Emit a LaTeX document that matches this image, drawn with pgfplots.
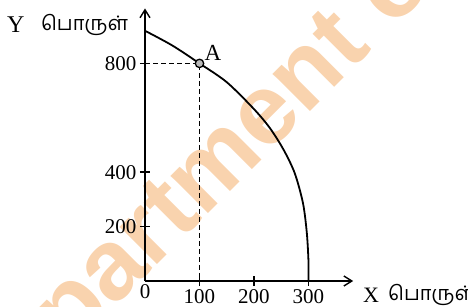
\documentclass[border=0pt]{standalone}
\usepackage{fontspec}
\setmainfont{Liberation Serif}
\newfontfamily\tafont[Script=Tamil]{Hind Madurai}
\newfontfamily\wmfont{Liberation Sans}
\usepackage{pgfplots}
\pgfplotsset{compat=1.18}
\usetikzlibrary{arrows.meta}
\definecolor{wm}{RGB}{249,211,174}

\begin{document}
\begin{tikzpicture}
\begin{scope}
\clip (-145bp,-26bp) rectangle (323bp,281bp);
\node[anchor=base west, rotate=45, inner sep=0, text=wm, font=\wmfont\bfseries\fontsize{100bp}{105bp}\selectfont] at (-75bp,-71bp) {\llap{De}partment of Examinations};
\end{scope}
\begin{axis}[
  anchor=origin, at={(0,0)},
  x=0.545bp, y=0.272bp,
  xmin=0, xmax=382, ymin=0, ymax=1002,
  axis lines=left,
  axis line style={-{Straight Barb[length=8bp,width=10bp,line width=1.4bp]}, line width=1.6bp, black},
  clip=false,
  xtick={100,200,300}, ytick={200,400,800},
  extra x ticks={0},
  extra x tick style={major tick length=0pt},
  tick align=center,
  major tick length=10bp,
  tick style={line width=1.5bp, black},
  tick label style={font=\fontsize{21bp}{24bp}\selectfont},
  /pgf/number format/assume math mode=true,
]
\addplot[dash pattern=on 5bp off 3bp, line width=1.4bp] coordinates {(0,800) (100,800) (100,0)};
\addplot[smooth, line width=1.8bp] coordinates {(0,920) (50,866) (100,800) (150,731) (200,632) (230,560) (255,480) (275,395) (290,285) (297,175) (300,70) (300,0)};
\addplot[only marks, mark=*, mark size=4.2bp, mark options={fill=gray!55, draw=black, line width=1.3bp}] coordinates {(100,800)};
\node[anchor=base west, inner sep=0, font=\fontsize{23bp}{26bp}\selectfont, xshift=5bp, yshift=2.5bp] at (axis cs:100,800) {A};
\end{axis}
\node[anchor=base west, inner sep=0, font=\fontsize{24bp}{28bp}\selectfont] at (-138bp,248bp) {Y};
\node[anchor=base west, inner sep=0, font=\tafont\fontsize{20bp}{24bp}\selectfont] at (-104bp,250bp) {பொருள்};
\node[anchor=base west, inner sep=0, font=\fontsize{22bp}{26bp}\selectfont] at (218bp,-21bp) {X};
\node[anchor=base west, inner sep=0, font=\tafont\fontsize{20bp}{24bp}\selectfont] at (243bp,-19bp) {பொருள்};
\pgfresetboundingbox
\path[use as bounding box] (-145bp,-26bp) rectangle (323bp,281bp);
\end{tikzpicture}
\end{document}
